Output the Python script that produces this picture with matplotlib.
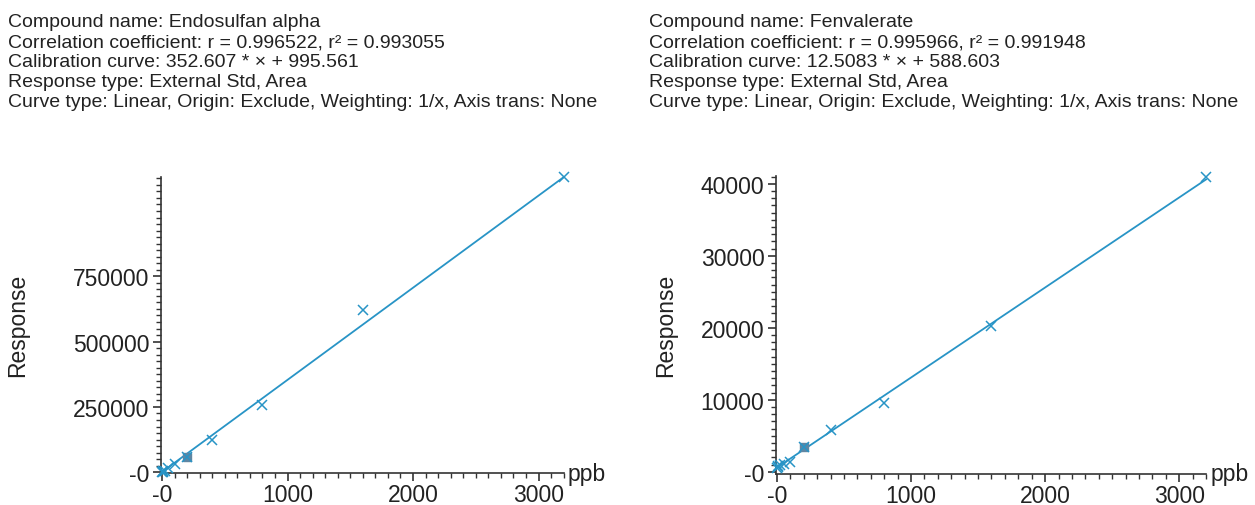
import numpy as np
import matplotlib
matplotlib.use("Agg")
import matplotlib.pyplot as plt
from matplotlib.ticker import FixedLocator, MultipleLocator

plt.rcParams['font.family'] = ['Liberation Sans', 'DejaVu Sans']

# Datos de calibración
conc = [1, 5, 10, 20, 50, 100, 200, 400, 800, 1600, 3200]

endo_resp = [1500, 2500, 4000, 6000, 15000, 30000, 57000, 122000, 258000, 622000, 1130000]
endo_slope = 352.607
endo_inter = 995.561
endo_info = ["Compound name: Endosulfan alpha",
             "Correlation coefficient: r = 0.996522, r² = 0.993055",
             "Calibration curve: 352.607 * × + 995.561",
             "Response type: External Std, Area",
             "Curve type: Linear, Origin: Exclude, Weighting: 1/x, Axis trans: None"]
endo_yticks = [0, 250000, 500000, 750000]
endo_ylabels = ["-0", "250000", "500000", "750000"]

fenv_resp = [600, 700, 800, 900, 1100, 1400, 3500, 5800, 9600, 20200, 41000]
fenv_slope = 12.5083
fenv_inter = 588.603
fenv_info = ["Compound name: Fenvalerate",
             "Correlation coefficient: r = 0.995966, r² = 0.991948",
             "Calibration curve: 12.5083 * × + 588.603",
             "Response type: External Std, Area",
             "Curve type: Linear, Origin: Exclude, Weighting: 1/x, Axis trans: None"]
fenv_yticks = [0, 10000, 20000, 30000, 40000]
fenv_ylabels = ["-0", "10000", "20000", "30000", "40000"]

xticks = [0, 1000, 2000, 3000]
xlabels = ["-0", "1000", "2000", "3000"]
sel_x = 200  # punto resaltado (gris)

color = "#2894c6"
gris = "#5f86a3"
W, H = 1255, 506

fig = plt.figure(figsize=(W / 100, H / 100), dpi=100)


def panel(rect, resp, slope, inter, info, yticks, ylabels, ymax, ymin, yminor, tx, lx):
    ax = fig.add_axes(rect)
    xs = np.array([0, conc[-1]])
    ax.plot(xs, slope * xs + inter, color=color, lw=1.3, zorder=2, clip_on=False)
    i = conc.index(sel_x)
    ax.plot(conc[i], resp[i], marker="s", ms=6, color=gris, ls="none", zorder=3)
    ax.plot(conc, resp, marker="x", ms=7.5, mew=1.1, color=color, ls="none",
            zorder=4, clip_on=False)

    ax.set_xlim(-10, 3200)
    ax.set_ylim(ymin, ymax)
    for s in ["top", "right"]:
        ax.spines[s].set_visible(False)
    for s in ["left", "bottom"]:
        ax.spines[s].set_color("#333333")
        ax.spines[s].set_linewidth(1.2)

    ax.xaxis.set_major_locator(FixedLocator(xticks))
    ax.set_xticklabels(xlabels)
    ax.xaxis.set_minor_locator(MultipleLocator(100))
    ax.yaxis.set_major_locator(FixedLocator(yticks))
    ax.set_yticklabels(ylabels)
    ax.yaxis.set_minor_locator(MultipleLocator(yminor))
    ax.tick_params(which="major", direction="out", length=6, width=1.2,
                   color="#333333", labelsize=16.5, labelcolor="#222222", pad=2)
    ax.tick_params(axis="x", which="major", pad=1)
    ax.tick_params(which="minor", direction="out", length=3.5, width=1,
                   color="#333333")
    ax.set_ylabel("Response", fontsize=16.5, color="#222222")
    ax.yaxis.set_label_coords(lx / W, 1 - 325 / H, transform=fig.transFigure)
    ax.text(1.01, 0.0, "ppb", transform=ax.transAxes, fontsize=16.5,
            color="#222222", ha="left", va="center")

    for k, line in enumerate(info):
        fig.text(tx, 1 - (27 + 20 * k) / H, line, fontsize=14,
                 color="#222222", ha="left", va="baseline")
    return ax


panel([0.1281, 0.0632, 0.321, 0.585], endo_resp, endo_slope, endo_inter, endo_info,
      endo_yticks, endo_ylabels, 1130000, -3000, 25000, 8 / W, 29)
panel([0.618, 0.0613, 0.343, 0.589], fenv_resp, fenv_slope, fenv_inter, fenv_info,
      fenv_yticks, fenv_ylabels, 41100, -300, 1000, 649 / W, 677)

fig.savefig("out.png", dpi=100)
